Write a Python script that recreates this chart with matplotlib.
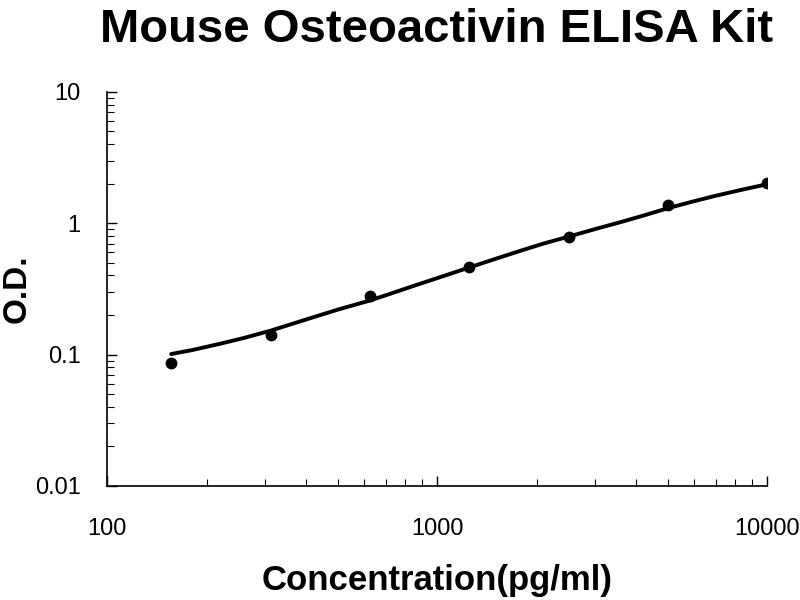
import matplotlib
matplotlib.use("Agg")
import matplotlib.pyplot as plt
from matplotlib.ticker import LogLocator, FixedLocator, NullFormatter

plt.rcParams['font.family'] = ['Liberation Sans', 'DejaVu Sans']

# standard points
conc = [156.25, 312.5, 625, 1250, 2500, 5000, 10000]
od = [0.087, 0.142, 0.279, 0.467, 0.79, 1.37, 2.02]

# fitted curve
curve_conc = [156.25, 180, 220, 260, 312.5, 360, 420, 500, 625, 720, 850, 1000,
              1250, 1500, 1800, 2100, 2500, 3000, 3600, 4200, 5000, 6000, 7000, 8400, 10000]
curve_od = [0.101, 0.108, 0.121, 0.134, 0.152, 0.170, 0.192, 0.220, 0.258, 0.290, 0.334, 0.382,
            0.460, 0.535, 0.620, 0.700, 0.790, 0.900, 1.020, 1.140, 1.300, 1.470, 1.620, 1.800, 1.980]

x_ticks = [100, 1000, 10000]
x_labels = ['100', '1000', '10000']
y_ticks = [0.01, 0.1, 1, 10]
y_labels = ['0.01', '0.1', '1', '10']

fig = plt.figure(figsize=(8, 6), dpi=100)
ax = fig.add_axes([0.134, 0.19, 0.825, 0.657])

ax.plot(curve_conc, curve_od, color='black', lw=2.8, solid_capstyle='round',
        solid_joinstyle='round', zorder=2)
ax.plot(conc, od, 'o', color='black', ms=7.5, zorder=3)

ax.set_xscale('log')
ax.set_yscale('log')
ax.set_xlim(100, 10000)
ax.set_ylim(0.01, 10)

ax.xaxis.set_major_locator(FixedLocator(x_ticks))
ax.set_xticklabels(x_labels)
ax.yaxis.set_major_locator(FixedLocator(y_ticks))
ax.set_yticklabels(y_labels)
ax.xaxis.set_minor_locator(LogLocator(base=10, subs=range(2, 10)))
ax.yaxis.set_minor_locator(LogLocator(base=10, subs=range(2, 10)))
ax.xaxis.set_minor_formatter(NullFormatter())
ax.yaxis.set_minor_formatter(NullFormatter())

for s in ['top', 'right']:
    ax.spines[s].set_visible(False)
for s in ['left', 'bottom']:
    ax.spines[s].set_linewidth(1.2)

ax.tick_params(which='major', direction='in', length=7, width=1.0, labelsize=17, colors='black')
ax.tick_params(which='minor', direction='in', length=5, width=0.8)
ax.tick_params(axis='x', which='major', pad=23)
ax.tick_params(axis='y', which='major', pad=19)

fig.text(0.546, 1 - 30 / 600, 'Mouse Osteoactivin ELISA Kit', fontsize=34,
         fontweight='bold', ha='center', va='center')
ax.set_xlabel('Concentration(pg/ml)', fontsize=25, fontweight='bold', va='center')
ax.xaxis.set_label_coords(0.5, -0.2386)
ax.set_ylabel('O.D.', fontsize=24, fontweight='bold', va='center')
ax.yaxis.set_label_coords(-0.136, 0.5)

fig.savefig('out.png', dpi=100)
